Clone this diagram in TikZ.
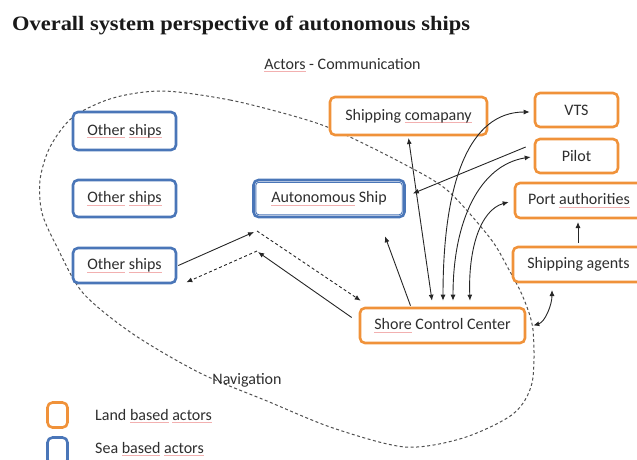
\documentclass[tikz,border=0pt]{standalone}
\usepackage{fontspec}
\setmainfont{Carlito}
\newfontfamily\titlefont{Liberation Serif}
\usetikzlibrary{arrows.meta,calc}
\definecolor{org}{HTML}{F0923A}
\definecolor{blu}{HTML}{4A76B8}
\definecolor{txt}{HTML}{2E2E2E}
\definecolor{dsh}{HTML}{505050}
\definecolor{spellred}{HTML}{F2B0B0}
\newcommand\splchk[1]{\setbox0\hbox{#1}\rlap{\textcolor{spellred}{\rule[-2.6pt]{\wd0}{0.7pt}}}\box0\relax}
\begin{document}
\begin{tikzpicture}[x=1pt,y=-1pt,
  lbl/.style={text=txt, inner sep=0pt, font=\fontsize{16}{18}\selectfont},
  land/.style={lbl, draw=org, line width=2.6pt, rounded corners=5pt, fill=white},
  sea/.style={lbl, draw=blu, line width=2.6pt, rounded corners=5pt, fill=white},
  arr/.style={draw=black!85, line width=0.9pt, -{Latex[length=6pt,width=5pt]}},
  arrb/.style={draw=black!85, line width=0.9pt, {Latex[length=6pt,width=5pt]}-{Latex[length=6pt,width=5pt]}},
  darr/.style={arr, dash pattern=on 3pt off 2.5pt},
  nav/.style={draw=dsh, line width=1pt, dash pattern=on 3pt off 2.5pt}
]
\useasboundingbox (0,0) rectangle (637,459);
\clip (0,0) rectangle (637,459);

% title
\node[anchor=base west, inner sep=0pt, text=black!90] (title) at (12,30)
  {\scalebox{1.15}[1.05]{\titlefont\bfseries\fontsize{19.5}{22}\selectfont Overall system perspective of autonomous ships}};
\node[lbl] (actors) at (342.5,65) {\splchk{Actors} - Communication};

% navigation boundary
\draw[nav] plot[smooth cycle] coordinates {
 (163,91) (230,100) (297,117) (337,131) (400,162) (447,190) (490,238) (508,268)
 (523,297) (533,330) (532,383) (513,414) (463,438) (405,447) (333,428) (267,401)
 (200,373) (133,334) (83,293) (57,247) (42,213) (40,180) (50,147) (73,117) (113,98)};
\node[lbl] (navlbl) at (247,380) {Navigation};

% sea based
\node[sea, minimum width=103pt, minimum height=38pt] (os1) at (124.5,131) {\splchk{Other} \splchk{ships}};
\node[sea, minimum width=103pt, minimum height=37pt] (os2) at (124.5,198.5) {\splchk{Other} \splchk{ships}};
\node[sea, minimum width=103pt, minimum height=35pt] (os3) at (124.5,265.5) {\splchk{Other} \splchk{ships}};
\node[sea, minimum width=151pt, minimum height=37pt] (as) at (329,198.5) {\splchk{Autonomous} Ship};
\draw[blu, line width=0.9pt, rounded corners=3pt] ($(as.south west)+(3.6,-3.6)$) rectangle ($(as.north east)+(-3.6,3.6)$);

% land based
\node[land, minimum width=157pt, minimum height=38pt] (sc) at (408.5,116) {Shipping \splchk{comapany}};
\node[land, minimum width=83pt, minimum height=34pt] (vts) at (576.5,110) {VTS};
\node[land, minimum width=83pt, minimum height=34pt] (pilot) at (576.5,156) {Pilot};
\node[land, minimum width=128pt, minimum height=35pt] (pa) at (579,200.5) {Port \splchk{authorities}};
\node[land, minimum width=131pt, minimum height=35pt] (sa) at (578.5,264.5) {Shipping agents};
\node[land, minimum width=165pt, minimum height=35pt] (scc) at (442.5,325.5) {\splchk{Shore} Control Center};

% relay points
\coordinate (A) at (254,232);
\coordinate (B) at (258,252);

% connectors
\draw[arrb] (408.5,138) -- ($(scc.north)+(-10.5,-6)$);
\draw[arr] ($(pilot.west)+(-8,-9)$) -- ($(as.east)+(7,-5)$);
\draw[arrb] ($(scc.north)+(0.5,-6)$) .. controls (443,180) and (470,112) .. ($(vts.west)+(-4,2)$);
\draw[arrb] ($(scc.north)+(10.5,-6)$) .. controls (453,220) and (480,165) .. ($(pilot.west)+(-3,1)$);
\draw[arrb] ($(scc.north)+(27.5,-6)$) .. controls (468,250) and (480,210) .. ($(pa.west)+(-5,1.5)$);
\draw[arr] (578,243) -- (578,222);
\draw[arrb] ($(scc.east)+(7,0)$) .. controls (545,322) and (552,305) .. (552,290);
\draw[arr] ($(scc.north)+(-32,-1)$) -- ($(as.south)+(56,18)$);
\draw[arr] (os3.east) ++(1,0) -- (A);
\draw[darr] ($(A)+(3,-1)$) -- ($(scc.north west)+(2,-6)$);
\draw[arr] ($(scc.west)+(-7,-8)$) -- (B);
\draw[darr] ($(B)+(-1,-1)$) -- ($(os3.south east)+(9,-2)$);

% legend
\node[land, minimum width=20pt, minimum height=25pt] (legland) at (57.5,415) {};
\node[sea, minimum width=20pt, minimum height=27pt] (legsea) at (57.5,451) {};
\node[lbl, anchor=west] (landtxt) at (95,416) {Land \splchk{based} \splchk{actors}};
\node[lbl, anchor=west] (seatxt) at (95,449) {Sea \splchk{based} \splchk{actors}};
\end{tikzpicture}
\end{document}
